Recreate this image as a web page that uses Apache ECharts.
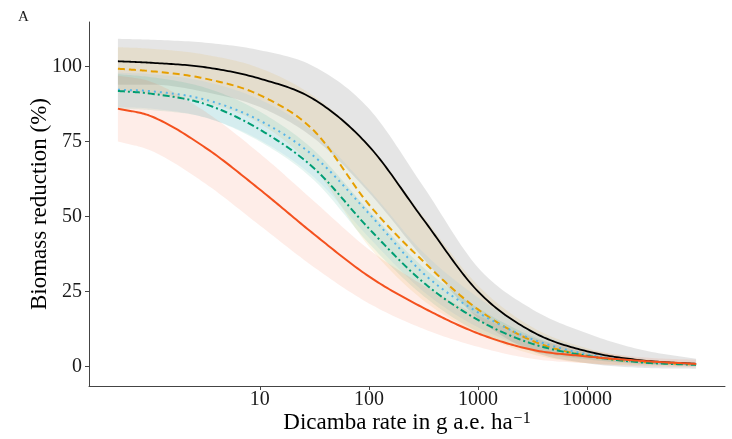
<!DOCTYPE html>
<html><head><meta charset="utf-8">
<script src="https://cdn.jsdelivr.net/npm/echarts@6/dist/echarts.min.js"></script>
<style>html,body{margin:0;padding:0;background:#fff}#c{width:732px;height:439px}</style>
</head><body><div id="c"></div>
<script>
// Dicamba rate (g a.e. ha^-1) sample positions
const doses = [0.5, 1, 3.16, 10, 31.6, 100, 316, 1000, 3162, 10000, 31623, 100000];
const xTicks = [10, 100, 1000, 10000];
const yTicks = [0, 25, 50, 75, 100];

// black solid curve + grey band
const blackFit = [101.8, 101.3, 99.8, 96, 89, 73.5, 49, 25, 11.5, 5, 2, 0.8];
const blackHi  = [109.3, 109, 108, 105.5, 100, 86, 60, 33, 19, 11, 5.5, 2.5];
const blackLo  = [94, 94, 91.5, 86.5, 76, 58, 36, 16, 5, 1, -0.5, -0.8];
// orange dashed
const orangeFit = [99.3, 98.5, 96, 90.5, 78.5, 54, 35, 19, 8.5, 3.5, 1.5, 0.6];
const orangeHi  = [106.5, 106, 104, 99.5, 90, 74, 50, 27, 13, 6, 2.5, 1.2];
const orangeLo  = [92, 91, 88, 81, 66, 40, 22, 11, 4, 1, 0.4, 0];
// sky-blue dotted
const blueFit = [92.3, 91.8, 89, 82, 70, 51, 31, 18, 9, 4, 1.5, 0.6];
const blueHi  = [98, 97.5, 95, 89, 78, 59, 38, 23, 12, 5.5, 2.2, 0.9];
const blueLo  = [86.5, 86, 83, 75.5, 63, 43, 25, 13, 6, 2.5, 0.8, 0.3];
// green dash-dot
const greenFit = [91.9, 91, 87.5, 79, 66, 46, 28, 15.5, 7.5, 3.5, 1.3, 0.5];
const greenHi  = [97.5, 96.5, 93, 85, 72, 52, 33, 19.5, 10, 4.5, 1.8, 0.8];
const greenLo  = [86, 85.5, 83, 75, 62, 41, 23.5, 11.5, 5, 2.3, 0.8, 0.2];
// red solid
const redFit = [86, 83.5, 73, 59, 44, 30, 19.5, 11, 5.5, 3.3, 1.8, 0.8];
const redHi  = [97, 95, 85, 71, 55, 39, 27, 17, 9.5, 5.5, 3, 2.2];
const redLo  = [75, 72, 61, 47, 33, 21, 12.5, 6.5, 2.5, 1, 0, -0.3];

const FONT = '"Liberation Serif", "Times New Roman", serif';

// monotone cubic path through pixel points (drawing only)
function smoothPts(pts, steps) {
  const n = pts.length, dx = [], s = [], m = new Array(n);
  for (let i = 0; i < n - 1; i++) {
    dx[i] = pts[i + 1][0] - pts[i][0];
    s[i] = (pts[i + 1][1] - pts[i][1]) / dx[i];
  }
  m[0] = s[0]; m[n - 1] = s[n - 2];
  for (let i = 1; i < n - 1; i++) m[i] = (s[i - 1] * s[i] <= 0) ? 0 : (s[i - 1] + s[i]) / 2;
  for (let i = 0; i < n - 1; i++) {
    if (s[i] === 0) { m[i] = 0; m[i + 1] = 0; continue; }
    const a = m[i] / s[i], b = m[i + 1] / s[i], h = a * a + b * b;
    if (h > 9) { const t = 3 / Math.sqrt(h); m[i] = t * a * s[i]; m[i + 1] = t * b * s[i]; }
  }
  const out = [];
  for (let i = 0; i < n - 1; i++) {
    for (let k = 0; k < steps; k++) {
      const t = k / steps, t2 = t * t, t3 = t2 * t;
      const y = (2 * t3 - 3 * t2 + 1) * pts[i][1] + (t3 - 2 * t2 + t) * dx[i] * m[i]
              + (-2 * t3 + 3 * t2) * pts[i + 1][1] + (t3 - t2) * dx[i] * m[i + 1];
      out.push([pts[i][0] + t * dx[i], y]);
    }
  }
  out.push(pts[n - 1]);
  return out;
}

function band(id, lo, hi, color) {
  return {
    type: 'custom', id: id, silent: true, z: 1, clip: true,
    data: [[doses[0], lo[0]]],
    renderItem: function (params, api) {
      const up = smoothPts(doses.map((d, i) => api.coord([d, hi[i]])), 16);
      const dn = smoothPts(doses.map((d, i) => api.coord([d, lo[i]])), 16).reverse();
      return {type: 'polygon', shape: {points: up.concat(dn)},
        style: {fill: color, opacity: 0.1, stroke: null}};
    }
  };
}
function curve(id, vals, color, width, dash) {
  return {
    type: 'custom', id: id, silent: true, z: 3, clip: true,
    data: [[doses[0], vals[0]]],
    renderItem: function (params, api) {
      const pts = smoothPts(doses.map((d, i) => api.coord([d, vals[i]])), 24);
      return {type: 'polyline', shape: {points: pts},
        style: {stroke: color, lineWidth: width, lineDash: dash, fill: null}};
    }
  };
}

const series = [
  band('bk', blackLo, blackHi, '#000000'),
  band('or', orangeLo, orangeHi, '#E69F00'),
  band('bl', blueLo, blueHi, '#56B4E9'),
  band('gr', greenLo, greenHi, '#009E73'),
  band('rd', redLo, redHi, '#F4511E'),
  curve('bkL', blackFit, '#000000', 1.8, null),
  curve('orL', orangeFit, '#E69F00', 2, [7, 4]),
  curve('blL', blueFit, '#56B4E9', 2, [2, 4]),
  curve('grL', greenFit, '#009E73', 2, [7, 3, 2, 3]),
  curve('rdL', redFit, '#F4511E', 2, null)
];

const chart = echarts.init(document.getElementById('c'), null, {renderer: 'canvas'});
chart.setOption({
  animation: false,
  backgroundColor: '#ffffff',
  title: {text: 'A', left: 13, top: 5, textStyle: {fontFamily: FONT, fontSize: 15, fontWeight: 'normal', color: '#1a1a1a'}},
  grid: {left: 89, right: 7, top: 22, bottom: 53, containLabel: false, outerBoundsMode: 'none'},
  xAxis: {
    type: 'log', logBase: 10, min: 0.27155, max: 184100,
    axisLine: {show: true, onZero: false, lineStyle: {color: '#444', width: 1}},
    axisTick: {show: true, customValues: xTicks, length: 4, lineStyle: {color: '#444'}},
    axisLabel: {show: true, customValues: xTicks, formatter: v => String(Math.round(v)), margin: 4,
      fontFamily: FONT, fontSize: 20, color: '#1a1a1a'},
    minorTick: {show: false}, splitLine: {show: false},
    name: 'Dicamba rate in g a.e. ha{s|−1}', nameLocation: 'middle', nameGap: 25, nameMoveOverlap: false,
    nameTextStyle: {fontFamily: FONT, fontSize: 23, color: '#000', verticalAlign: 'top',
      rich: {s: {fontFamily: FONT, fontSize: 16, verticalAlign: 'top', padding: [0, 0, 8, 1]}}}
  },
  yAxis: {
    type: 'value', min: -6.57, max: 114.9,
    axisLine: {show: true, onZero: false, lineStyle: {color: '#444', width: 1}},
    axisTick: {show: true, customValues: yTicks, length: 4, lineStyle: {color: '#444'}},
    axisLabel: {show: true, customValues: yTicks, margin: 7, fontFamily: FONT, fontSize: 20, color: '#1a1a1a'},
    splitLine: {show: false},
    name: 'Biomass reduction (%)', nameLocation: 'middle', nameGap: 38, nameMoveOverlap: false,
    nameTextStyle: {fontFamily: FONT, fontSize: 23, color: '#000'}
  },
  series: series
});
</script></body></html>
